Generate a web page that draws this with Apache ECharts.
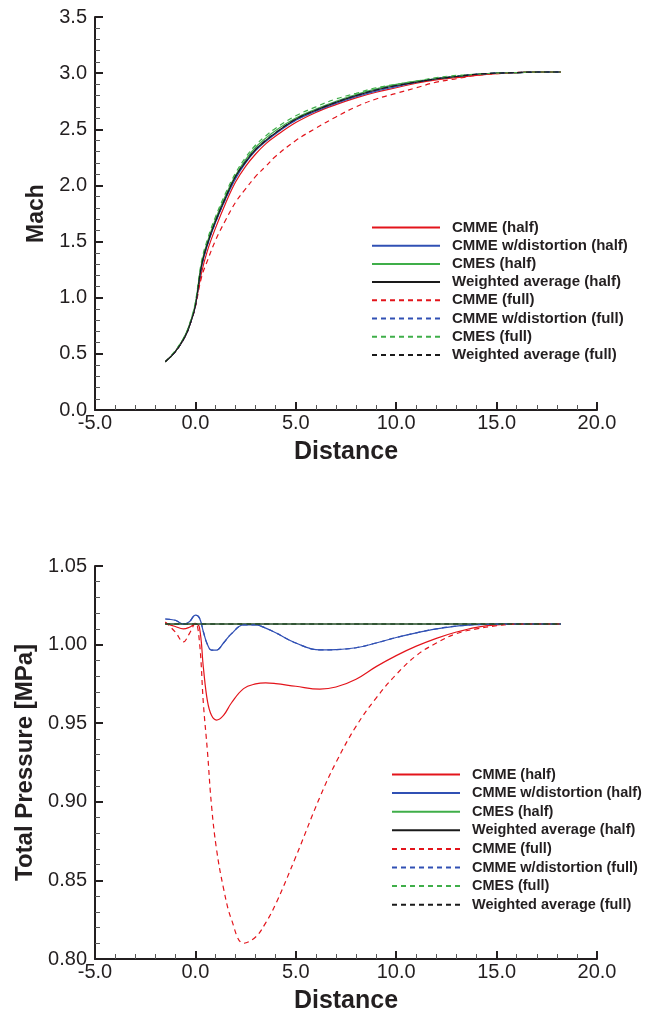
<!DOCTYPE html>
<html>
<head>
<meta charset="utf-8">
<style>
html,body{margin:0;padding:0;background:#fff;}
#chart{width:649px;height:1015px;}
</style>
<script src="https://cdn.jsdelivr.net/npm/echarts@6/dist/echarts.min.js"></script>
</head>
<body>
<div id="chart"></div>
<script>
// ---------- Data: top chart (Mach vs Distance) ----------
const machX = [-1.5,-1.0,-0.5,-0.2,0.0,0.3,0.6,1.0,1.5,2.0,2.5,3.0,3.5,4.0,5.0,6.0,7.0,8.0,9.0,10.0,11.0,12.0,13.0,14.0,15.0,16.0,17.0,18.2];
const machCMMEhalf   = [0.43,0.52,0.66,0.80,0.93,1.22,1.42,1.62,1.84,2.03,2.17,2.28,2.37,2.44,2.56,2.65,2.72,2.78,2.83,2.87,2.91,2.94,2.96,2.98,2.995,3.005,3.01,3.01];
const machDistHalf   = [0.43,0.52,0.66,0.80,0.93,1.27,1.47,1.67,1.88,2.06,2.20,2.31,2.39,2.46,2.58,2.66,2.73,2.79,2.84,2.88,2.92,2.95,2.97,2.99,3.00,3.005,3.01,3.01];
const machCMEShalf   = [0.43,0.52,0.67,0.81,0.95,1.30,1.50,1.70,1.91,2.09,2.23,2.34,2.42,2.49,2.60,2.68,2.75,2.81,2.86,2.90,2.93,2.95,2.97,2.99,3.00,3.005,3.01,3.01];
const machWAhalf     = [0.43,0.52,0.66,0.80,0.93,1.28,1.48,1.68,1.89,2.08,2.21,2.32,2.40,2.47,2.59,2.67,2.74,2.80,2.85,2.89,2.92,2.95,2.97,2.99,3.00,3.005,3.01,3.01];
const machCMMEfull   = [0.43,0.52,0.66,0.80,0.92,1.18,1.33,1.51,1.69,1.85,1.97,2.08,2.17,2.26,2.40,2.51,2.61,2.70,2.77,2.82,2.87,2.92,2.95,2.98,2.995,3.005,3.01,3.01];
const machDistFull   = [0.43,0.52,0.66,0.80,0.93,1.27,1.47,1.67,1.88,2.07,2.21,2.32,2.40,2.47,2.58,2.67,2.74,2.80,2.85,2.89,2.92,2.95,2.97,2.99,3.00,3.005,3.01,3.01];
const machCMESfull   = [0.43,0.53,0.67,0.82,0.96,1.32,1.52,1.72,1.93,2.11,2.25,2.36,2.44,2.51,2.62,2.70,2.77,2.82,2.87,2.90,2.93,2.96,2.98,2.99,3.00,3.005,3.01,3.01];
const machWAfull     = [0.43,0.52,0.66,0.80,0.93,1.28,1.48,1.68,1.89,2.08,2.21,2.32,2.40,2.47,2.59,2.67,2.74,2.80,2.85,2.89,2.92,2.95,2.97,2.99,3.00,3.005,3.01,3.01];

// ---------- Data: bottom chart (Total Pressure vs Distance) ----------
const ptX = [-1.5,-1.0,-0.6,-0.3,0.0,0.2,0.4,0.6,0.8,1.05,1.4,1.8,2.4,3.0,3.5,4.0,5.0,6.2,7.0,8.0,9.0,10.0,11.0,12.0,13.0,14.0,15.0,16.0,17.0,18.2];
const ptCMMEhalf = [1.0137,1.0115,1.0100,1.0110,1.0130,1.0110,0.9850,0.9640,0.9550,0.9520,0.9550,0.9630,0.9720,0.9750,0.9757,0.9752,0.9735,0.9717,0.9730,0.9780,0.9860,0.9930,0.9990,1.0040,1.0080,1.0110,1.0125,1.0130,1.0131,1.0131];
const ptDistHalf = [1.0163,1.0155,1.0130,1.0145,1.0188,1.0170,1.0080,1.0000,0.9965,0.9965,1.0010,1.0070,1.0125,1.0125,1.0105,1.0075,1.0010,0.9966,0.9968,0.9980,1.0010,1.0045,1.0075,1.0100,1.0118,1.0127,1.0130,1.0131,1.0131,1.0131];
const ptCMEShalf = [1.0131,1.0131,1.0131,1.0131,1.0131,1.0131,1.0131,1.0131,1.0131,1.0131,1.0131,1.0131,1.0131,1.0131,1.0131,1.0131,1.0131,1.0131,1.0131,1.0131,1.0131,1.0131,1.0131,1.0131,1.0131,1.0131,1.0131,1.0131,1.0131,1.0131];
const ptWAhalf   = [1.0131,1.0131,1.0131,1.0131,1.0131,1.0131,1.0131,1.0131,1.0131,1.0131,1.0131,1.0131,1.0131,1.0131,1.0131,1.0131,1.0131,1.0131,1.0131,1.0131,1.0131,1.0131,1.0131,1.0131,1.0131,1.0131,1.0131,1.0131,1.0131,1.0131];
const ptCMMEfull = [1.0144,1.0080,1.0017,1.0070,1.0137,1.0020,0.9620,0.9320,0.8980,0.8700,0.8450,0.8250,0.8100,0.8140,0.8230,0.8350,0.8650,0.9030,0.9250,0.9480,0.9660,0.9810,0.9930,1.0010,1.0070,1.0100,1.0120,1.0130,1.0131,1.0131];
const ptDistFull = [1.0163,1.0155,1.0130,1.0145,1.0188,1.0170,1.0080,1.0000,0.9965,0.9965,1.0010,1.0070,1.0125,1.0125,1.0105,1.0075,1.0010,0.9966,0.9968,0.9980,1.0010,1.0045,1.0075,1.0100,1.0118,1.0127,1.0130,1.0131,1.0131,1.0131];
const ptCMESfull = [1.0131,1.0131,1.0131,1.0131,1.0131,1.0131,1.0131,1.0131,1.0131,1.0131,1.0131,1.0131,1.0131,1.0131,1.0131,1.0131,1.0131,1.0131,1.0131,1.0131,1.0131,1.0131,1.0131,1.0131,1.0131,1.0131,1.0131,1.0131,1.0131,1.0131];
const ptWAfull   = [1.0131,1.0131,1.0131,1.0131,1.0131,1.0131,1.0131,1.0131,1.0131,1.0131,1.0131,1.0131,1.0131,1.0131,1.0131,1.0131,1.0131,1.0131,1.0131,1.0131,1.0131,1.0131,1.0131,1.0131,1.0131,1.0131,1.0131,1.0131,1.0131,1.0131];

const seriesNames = ['CMME (half)','CMME w/distortion (half)','CMES (half)','Weighted average (half)',
                     'CMME (full)','CMME w/distortion (full)','CMES (full)','Weighted average (full)'];
const xTicks = { min: -5, max: 20, interval: 5 };

// ---------- Styles ----------
const RED = '#e3141b', BLUE = '#3050b4', GREEN = '#3fae49', BLACK = '#1a1a1a';
const colors = [RED, BLUE, GREEN, BLACK, RED, BLUE, GREEN, BLACK];
const AX = '#231f20';
const FONT = '"Liberation Sans", Arial, sans-serif';

function pairs(xs, ys){ return xs.map((x,i)=>[x, ys[i]]); }

const machSets = [machCMMEhalf, machDistHalf, machCMEShalf, machWAhalf, machCMMEfull, machDistFull, machCMESfull, machWAfull];
const ptSets = [ptCMMEhalf, ptDistHalf, ptCMEShalf, ptWAhalf, ptCMMEfull, ptDistFull, ptCMESfull, ptWAfull];

function mkSeries(sets, xs, idx){
  return sets.map((ys, i) => ({
    name: seriesNames[i],
    type: 'line',
    xAxisIndex: idx, yAxisIndex: idx,
    data: pairs(xs, ys),
    showSymbol: false, symbol: 'none',
    smooth: 0.4,
    color: colors[i],
    lineStyle: { color: colors[i], width: 1.2, type: i >= 4 ? [5, 4] : 'solid' },
    z: 2 + i
  }));
}

function xAxis(idx){
  return {
    type: 'value', gridIndex: idx, min: xTicks.min, max: xTicks.max, interval: xTicks.interval,
    name: 'Distance', nameLocation: 'middle', nameGap: 30,
    nameTextStyle: { fontFamily: FONT, fontSize: 25, fontWeight: 'bold', color: AX },
    axisLine: { show: true, onZero: false, lineStyle: { color: AX, width: 2 } },
    axisTick: { show: true, inside: true, length: 8, lineStyle: { color: AX, width: 2 } },
    minorTick: { show: true, splitNumber: 5, length: 5, lineStyle: { color: '#555', width: 1 } },
    splitLine: { show: false },
    axisLabel: { fontFamily: FONT, fontSize: 20, color: AX, margin: 3, formatter: v => v.toFixed(1) }
  };
}

function yAxis(idx, cfg){
  return Object.assign({
    type: 'value', gridIndex: idx, nameLocation: 'middle',
    axisLine: { show: true, onZero: false, lineStyle: { color: AX, width: 2 } },
    axisTick: { show: true, inside: true, length: 8, lineStyle: { color: AX, width: 2 } },
    minorTick: { show: true, splitNumber: 5, length: 5, lineStyle: { color: '#555', width: 1 } },
    splitLine: { show: false },
  }, cfg);
}

function legend(left, top, gap, fs){
  return {
    orient: 'vertical', left: left, top: top,
    data: seriesNames, selectedMode: false,
    itemWidth: 68, itemHeight: 12, itemGap: gap,
    itemStyle: { opacity: 0 },
    textStyle: { fontFamily: FONT, fontSize: fs, fontWeight: 'bold', color: AX, padding: [0,0,0,7] }
  };
}

const chart = echarts.init(document.getElementById('chart'), null, { renderer: 'canvas' });
chart.setOption({
  animation: false,
  backgroundColor: '#fff',
  grid: [
    { left: 95, top: 17, width: 502, height: 393, containLabel: false, outerBoundsMode: 'none' },
    { left: 95, top: 566, width: 502, height: 393, containLabel: false, outerBoundsMode: 'none' }
  ],
  legend: [legend(366, 215, 3.2, 15), legend(386, 762, 3.6, 14.5)],
  xAxis: [xAxis(0), xAxis(1)],
  yAxis: [
    yAxis(0, { min: 0, max: 3.5, interval: 0.5, name: 'Mach', nameGap: 42,
      nameTextStyle: { fontFamily: FONT, fontSize: 23, fontWeight: 'bold', color: AX },
      axisLabel: { fontFamily: FONT, fontSize: 20, color: AX, margin: 8, formatter: v => v.toFixed(1) } }),
    yAxis(1, { min: 0.8, max: 1.05, interval: 0.05, name: 'Total Pressure [MPa]', nameGap: 58,
      nameTextStyle: { fontFamily: FONT, fontSize: 24, fontWeight: 'bold', color: AX },
      axisLabel: { fontFamily: FONT, fontSize: 20, color: AX, margin: 8, formatter: v => v.toFixed(2) } })
  ],
  series: mkSeries(machSets, machX, 0).concat(mkSeries(ptSets, ptX, 1))
});
</script>
</body>
</html>
